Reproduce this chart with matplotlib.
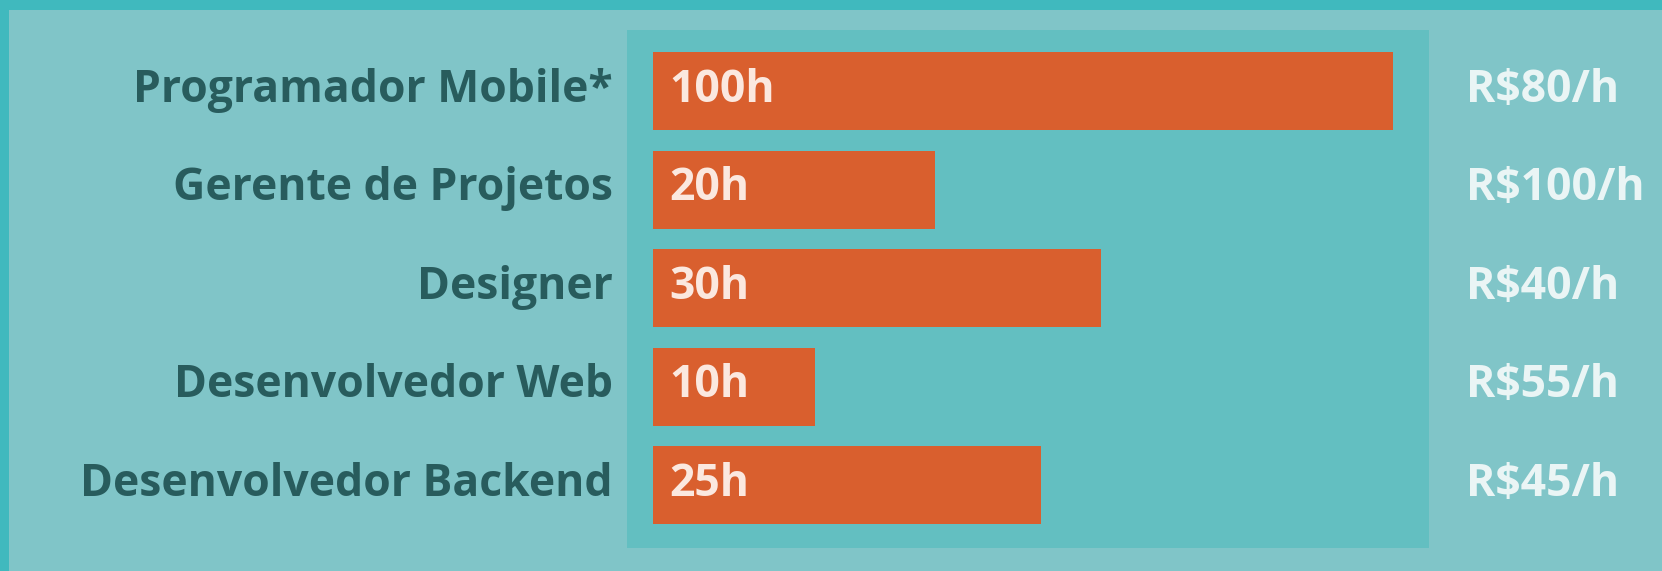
import matplotlib
matplotlib.use("Agg")
import matplotlib.pyplot as plt
import matplotlib.transforms as mtransforms

# ---- data ----
roles = ["Programador Mobile*", "Gerente de Projetos", "Designer",
         "Desenvolvedor Web", "Desenvolvedor Backend"]
hours = [100, 20, 30, 10, 25]
hour_labels = ["100h", "20h", "30h", "10h", "25h"]
bar_lengths = [100, 38.1, 60.5, 21.9, 52.4]   # drawn lengths
rate_labels = ["R$80/h", "R$100/h", "R$40/h", "R$55/h", "R$45/h"]

# ---- style ----
BORDER = "#40b9be"
BG = "#80c5c8"
PANEL = "#63bfc1"
BAR = "#d95f2e"
DARK = "#285c5d"
LIGHT = "#eaf5f5"
BARTXT = "#fbe8df"
FONT = "Open Sans"
FS = 32

W, H = 1662, 571
fig = plt.figure(figsize=(W / 100, H / 100), dpi=100)
fig.patch.set_facecolor(BORDER)

# inner background
bg = fig.add_axes([9 / W, 0, 1 - 9 / W, (H - 10) / H], zorder=-5)
bg.set_facecolor(BG)
for s in bg.spines.values():
    s.set_visible(False)
bg.set_xticks([])
bg.set_yticks([])

# panel axes (pixels: x 627..1429, y 30..548 from top)
ax = fig.add_axes([627 / W, (H - 548) / H, (1429 - 627) / W, (548 - 30) / H], zorder=1)
ax.set_facecolor(PANEL)
for s in ax.spines.values():
    s.set_visible(False)
ax.set_xticks([])
ax.set_yticks([])

px_per_unit = 7.4
ax.set_xlim(-26 / px_per_unit, (1429 - 653) / px_per_unit)
row_px = 98.5
ax.set_ylim((548 - 91) / row_px, (30 - 91) / row_px)

ypos = list(range(len(roles)))
ax.barh(ypos, bar_lengths, height=78 / row_px, color=BAR, left=0)

blend = mtransforms.blended_transform_factory(fig.transFigure, ax.transData)
off = 0.11
for i in ypos:
    ax.text(16 / px_per_unit, i + off, hour_labels[i], color=BARTXT,
            fontsize=FS, fontweight="bold", family=FONT,
            ha="left", va="baseline")
    ax.text(613 / W, i + off, roles[i], color=DARK, fontsize=FS,
            fontweight="bold", family=FONT, ha="right", va="baseline",
            transform=blend, clip_on=False)
    ax.text(1466 / W, i + off, rate_labels[i], color=LIGHT, fontsize=FS,
            fontweight="bold", family=FONT, ha="left", va="baseline",
            transform=blend, clip_on=False)

fig.savefig("out.png", dpi=100, facecolor=fig.get_facecolor())
